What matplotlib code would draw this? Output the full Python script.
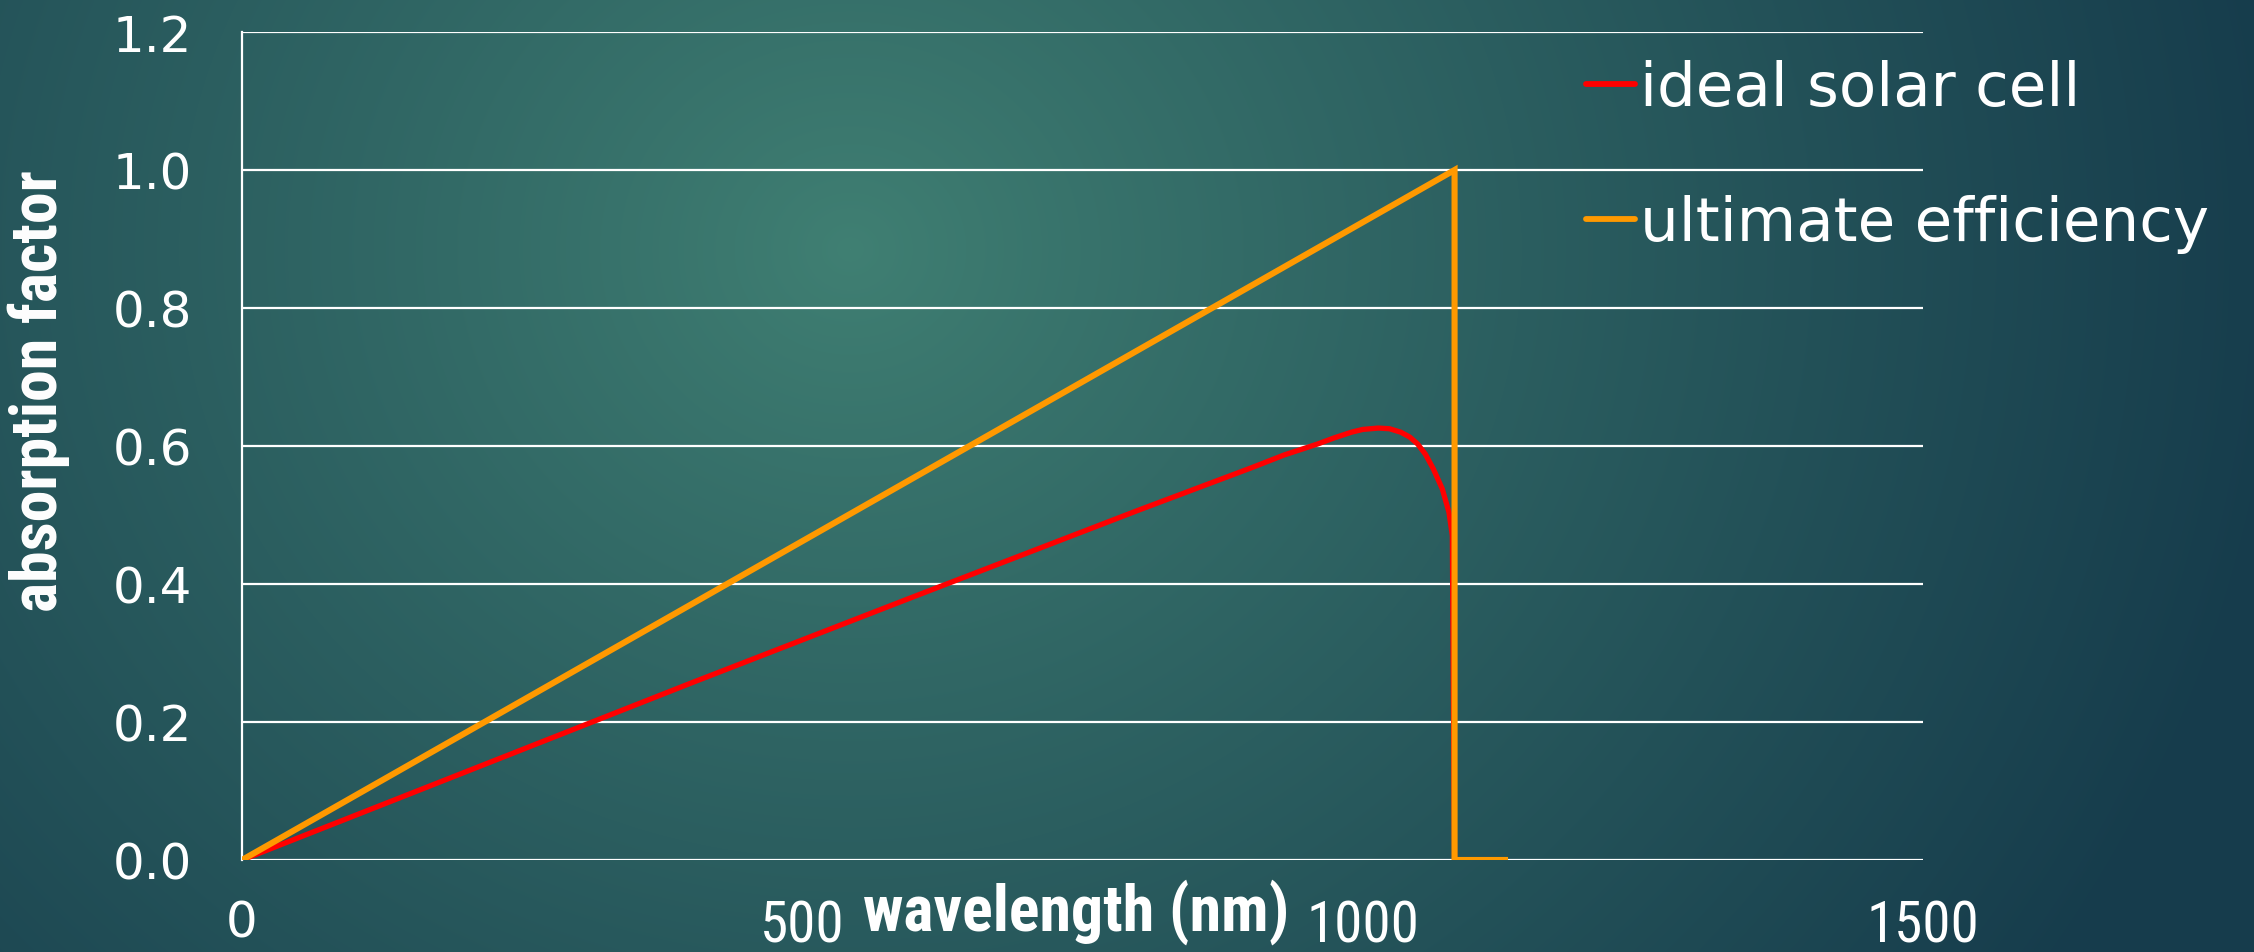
import matplotlib.pyplot as plt
import numpy as np
from matplotlib import font_manager

# absorption factor vs wavelength
ideal_nm = [0, 200, 400, 600, 800, 900, 930, 960, 975, 990, 1000, 1014, 1024, 1034,
            1042, 1049, 1056, 1063, 1071, 1077, 1080, 1082, 1127]
ideal_val = [0, 0.128, 0.256, 0.382, 0.507, 0.568, 0.587, 0.603, 0.612, 0.620, 0.624,
             0.626, 0.625, 0.620, 0.613, 0.603, 0.588, 0.567, 0.538, 0.504, 0.47, 0, 0]
ultimate_nm = [0, 1082, 1082, 1127]
ultimate_val = [0, 1.0, 0, 0]

series_labels = ['ideal solar cell', 'ultimate efficiency']
x_ticks = [0, 500, 1000, 1500]
y_ticks = [0.0, 0.2, 0.4, 0.6, 0.8, 1.0, 1.2]


def pick_font(names):
    installed = {f.name for f in font_manager.fontManager.ttflist}
    for n in names:
        if n in installed:
            return n
    return 'DejaVu Sans'


narrow = pick_font(['Liberation Sans Narrow', 'Roboto Condensed', 'Roboto'])
regular = 'DejaVu Sans'

W, H = 2254, 953
fig = plt.figure(figsize=(W / 100, H / 100), dpi=100)

# radial teal backdrop
bg = fig.add_axes([0, 0, 1, 1], zorder=-10)
yy, xx = np.mgrid[0:H, 0:W]
r = np.hypot(xx - 850, (yy - 250) * 1.1) / 1450
r = np.clip(r, 0, 1) ** 0.9
c0 = np.array([64, 128, 115]) / 255
c1 = np.array([22, 60, 76]) / 255
img = c0[None, None, :] * (1 - r[..., None]) + c1[None, None, :] * r[..., None]
bg.imshow(img, aspect='auto', extent=[0, W, H, 0])
bg.axis('off')

ax = fig.add_axes([242 / W, 92 / H, (1923 - 242) / W, (861 - 33) / H])
ax.patch.set_alpha(0)

ax.plot(ideal_nm, ideal_val, color='#ff0000', lw=3.8, solid_joinstyle='round',
        label=series_labels[0], zorder=3)
ax.plot(ultimate_nm, ultimate_val, color='#ff9900', lw=4.4, solid_joinstyle='miter',
        label=series_labels[1], zorder=4)

ax.set_xlim(0, 1500)
ax.set_ylim(0, 1.2)
ax.set_xticks(x_ticks)
ax.set_yticks(y_ticks)
ax.set_yticklabels([f'{v:.1f}' for v in y_ticks], fontsize=36, color='white',
                   family=regular)
ax.set_xticklabels([str(v) for v in x_ticks], fontsize=41, color='white',
                   family=narrow)
# the zero label is set in the wide face
ax.get_xticklabels()[0].set_family(regular)
ax.get_xticklabels()[0].set_fontsize(36)
ax.tick_params(axis='both', length=0)
ax.tick_params(axis='x', pad=28)
ax.tick_params(axis='y', pad=36)
ax.yaxis.grid(True, color='white', lw=1.6)
ax.set_axisbelow(True)
for side in ['top', 'right', 'bottom']:
    ax.spines[side].set_visible(False)
ax.spines['left'].set_color('white')
ax.spines['left'].set_linewidth(1.6)

fig.text(1076 / W, 1 - 912 / H, 'wavelength (nm)', ha='center', va='center',
         fontsize=46, fontweight='bold', color='white', family=narrow)
fig.text(39 / W, 1 - 391 / H, 'absorption factor', ha='center', va='center',
         rotation=90, fontsize=46, fontweight='bold', color='white', family=narrow)

leg = ax.legend(loc='upper left', bbox_to_anchor=(1586 / W, 1 - 60 / H),
                bbox_transform=fig.transFigure, frameon=False, fontsize=44,
                handlelength=0.8, handletextpad=0.08, labelspacing=1.25,
                borderpad=0, borderaxespad=0)
for t in leg.get_texts():
    t.set_color('white')
    t.set_family(regular)
for h in leg.get_lines():
    h.set_linewidth(4.2)
    h.set_solid_capstyle('round')

fig.savefig('out.png', dpi=100)
